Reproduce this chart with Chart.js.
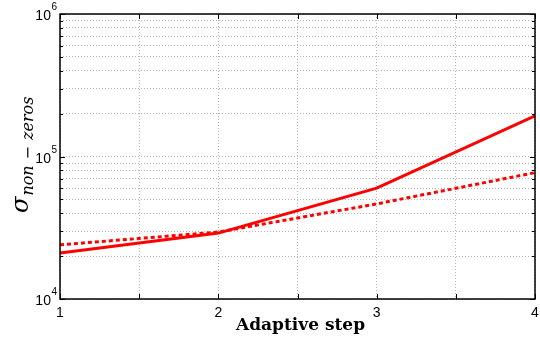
<!DOCTYPE html>
<html>
<head>
<meta charset="utf-8">
<script src="https://cdn.jsdelivr.net/npm/chart.js@4"></script>
<style>
  html, body { margin: 0; padding: 0; background: #fff; }
  #wrap { width: 540px; height: 339px; }
</style>
</head>
<body>
<div id="wrap"><canvas id="chart"></canvas></div>
<script>
// adaptive steps and non-zero counts of the two runs
const steps = [1, 2, 3, 4];
const nnzSolid = [21000, 29000, 60000, 193000];
const nnzDotted = [24000, 29500, 46500, 77000];

// grid / tick positions
const xGridValues = [1, 1.5, 2, 2.5, 3, 3.5, 4];
const xTickLabels = ['1', '2', '3', '4'];
const yGridValues = [
  10000, 20000, 30000, 40000, 50000, 60000, 70000, 80000, 90000,
  100000, 200000, 300000, 400000, 500000, 600000, 700000, 800000, 900000,
  1000000
];
const yDecades = [10000, 100000, 1000000];
const yDecadeLabels = [['10', '4'], ['10', '5'], ['10', '6']];

const SANS = '"Liberation Sans", Arial, sans-serif';
const SERIF = '"DejaVu Serif", serif';

// black box, inward tick marks, decade labels and axis titles
const axesDecor = {
  id: 'axesDecor',
  afterDraw(chart) {
    const { ctx, chartArea: a, scales: { x, y } } = chart;
    ctx.save();

    // tick marks on all four sides
    ctx.strokeStyle = '#000';
    ctx.lineWidth = 1;
    ctx.beginPath();
    xGridValues.forEach(v => {
      const px = Math.round(x.getPixelForValue(v)) + 0.5;
      ctx.moveTo(px, a.bottom); ctx.lineTo(px, a.bottom - 5);
      ctx.moveTo(px, a.top); ctx.lineTo(px, a.top + 5);
    });
    yGridValues.forEach(v => {
      const py = Math.round(y.getPixelForValue(v)) + 0.5;
      const len = yDecades.includes(v) ? 5 : 3;
      ctx.moveTo(a.left, py); ctx.lineTo(a.left + len, py);
      ctx.moveTo(a.right, py); ctx.lineTo(a.right - len, py);
    });
    ctx.stroke();

    // box
    ctx.lineWidth = 1.5;
    ctx.strokeRect(a.left, a.top, a.right - a.left, a.bottom - a.top);

    // y decade labels 10^n
    ctx.fillStyle = '#000';
    ctx.textBaseline = 'alphabetic';
    yDecades.forEach((v, i) => {
      const py = y.getPixelForValue(v);
      const [base, expo] = yDecadeLabels[i];
      ctx.font = '10px ' + SANS;
      const ew = ctx.measureText(expo).width;
      const right = a.left - 3;
      ctx.textAlign = 'left';
      ctx.fillText(expo, right - ew, py - 4);
      ctx.font = '14px ' + SANS;
      ctx.textAlign = 'right';
      ctx.fillText(base, right - ew - 0.5, py + 6);
    });

    // x axis title
    ctx.font = 'bold 17px ' + SERIF;
    ctx.textAlign = 'center';
    ctx.fillText('Adaptive step', (a.left + a.right) / 2 + 3, 330);

    // y axis title: sigma with subscript, rotated
    ctx.translate(28, 213);
    ctx.rotate(-Math.PI / 2);
    ctx.textAlign = 'left';
    ctx.font = 'italic 24px ' + SERIF;
    ctx.fillText('σ', 0, 0);
    let cx = ctx.measureText('σ').width + 1;
    ctx.font = 'italic 16px ' + SERIF;
    const parts = ['non', '−', 'zeros'];
    parts.forEach((p, i) => {
      ctx.fillText(p, cx, 5);
      cx += ctx.measureText(p).width + (i < parts.length - 1 ? 6 : 0);
    });

    ctx.restore();
  }
};

new Chart(document.getElementById('chart'), {
  type: 'line',
  data: {
    datasets: [
      {
        data: steps.map((s, i) => ({ x: s, y: nnzSolid[i] })),
        borderColor: '#ff0000',
        borderWidth: 3,
        pointRadius: 0,
        tension: 0
      },
      {
        data: steps.map((s, i) => ({ x: s, y: nnzDotted[i] })),
        borderColor: '#ff0000',
        borderWidth: 3,
        borderDash: [4, 3],
        pointRadius: 0,
        tension: 0
      }
    ]
  },
  options: {
    responsive: true,
    maintainAspectRatio: false,
    animation: false,
    layout: { padding: { top: 14, right: 5, left: 0, bottom: 0 } },
    plugins: { legend: { display: false }, tooltip: { enabled: false } },
    scales: {
      x: {
        type: 'linear',
        min: 1,
        max: 4,
        afterBuildTicks: s => { s.ticks = xGridValues.map(v => ({ value: v })); },
        afterFit: s => {
          s.height = 40;
          s.paddingLeft = 0;
          s.paddingRight = 0;
        },
        ticks: {
          autoSkip: false,
          maxRotation: 0,
          padding: 6,
          color: '#000',
          font: { family: SANS, size: 14 },
          callback: v => Number.isInteger(v) ? xTickLabels[v - 1] : ''
        },
        grid: { color: '#b4b4b4', lineWidth: 1, drawTicks: false },
        border: { display: false, dash: [1, 2] }
      },
      y: {
        type: 'logarithmic',
        min: 10000,
        max: 1000000,
        afterBuildTicks: s => { s.ticks = yGridValues.map(v => ({ value: v })); },
        afterFit: s => { s.width = 60; },
        ticks: { display: false },
        grid: { color: '#b4b4b4', lineWidth: 1, drawTicks: false },
        border: { display: false, dash: [1, 2] }
      }
    }
  },
  plugins: [axesDecor]
});
</script>
</body>
</html>
